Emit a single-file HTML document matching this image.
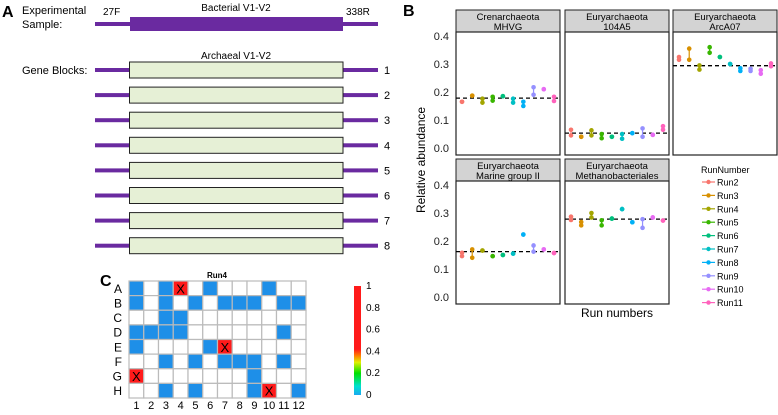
<!DOCTYPE html>
<html><head><meta charset="utf-8"><style>
body{margin:0;background:#fff;width:778px;height:410px;overflow:hidden}
svg{font-family:"Liberation Sans",sans-serif}
</style></head><body>
<svg id="fig" width="778" height="410" xmlns="http://www.w3.org/2000/svg">
<g id="panelA">
 <text x="2" y="17" font-size="16" font-weight="bold">A</text>
 <text x="22" y="14" font-size="11">Experimental</text>
 <text x="22" y="28" font-size="11">Sample:</text>
 <rect x="95" y="22" width="283" height="4" fill="#6a2aa0"/>
 <rect x="130" y="17" width="213" height="14" fill="#6a2aa0"/>
 <text x="103" y="15" font-size="10">27F</text>
 <text x="346" y="15" font-size="10">338R</text>
 <text x="236" y="11" font-size="10" text-anchor="middle">Bacterial V1-V2</text>
 <text x="236" y="59" font-size="10" text-anchor="middle">Archaeal V1-V2</text>
 <text x="22" y="74" font-size="11">Gene Blocks:</text>
</g>
<g id="panelB">
 <text x="403" y="16" font-size="16" font-weight="bold">B</text>
 <text transform="translate(425,160) rotate(-90)" font-size="12" text-anchor="middle">Relative abundance</text>
 <text x="617" y="317" font-size="12" text-anchor="middle">Run numbers</text>
 <text x="701" y="173" font-size="9">RunNumber</text>
</g>
<g id="panelC">
 <text x="100" y="286" font-size="16" font-weight="bold">C</text>
 <text x="217" y="278" font-size="8" font-weight="bold" text-anchor="middle">Run4</text>
</g>
</svg>
<script>
const NS='http://www.w3.org/2000/svg';
function mk(parent,tag,attrs,text){const e=document.createElementNS(NS,tag);for(const k in attrs)e.setAttribute(k,attrs[k]);if(text!==undefined)e.textContent=text;parent.appendChild(e);return e;}
// ---- Panel A data
const geneBlocks=['1','2','3','4','5','6','7','8'];
// ---- Panel B data
const runs=['Run2','Run3','Run4','Run5','Run6','Run7','Run8','Run9','Run10','Run11'];
const runColors=['#F8766D','#D89000','#A3A500','#39B600','#00BF7D','#00BFC4','#00B0F6','#9590FF','#E76BF3','#FF62BC'];
const facetNames=[['Crenarchaeota','MHVG'],['Euryarchaeota','104A5'],['Euryarchaeota','ArcA07'],['Euryarchaeota','Marine group II'],['Euryarchaeota','Methanobacteriales']];
const facetMeans=[0.178,0.053,0.294,0.162,0.278];
const mhvgLow=[0.165,0.187,0.162,0.169,0.185,0.162,0.150,0.190,0.210,0.168];
const mhvgHigh=[0.165,0.187,0.176,0.183,0.185,0.176,0.165,0.217,0.210,0.183];
const a104Low=[0.045,0.040,0.045,0.035,0.040,0.033,0.053,0.040,0.047,0.065];
const a104High=[0.065,0.040,0.063,0.050,0.040,0.050,0.053,0.070,0.047,0.078];
const arcLow=[0.315,0.315,0.280,0.340,0.325,0.300,0.275,0.275,0.265,0.292];
const arcHigh=[0.325,0.355,0.295,0.360,0.325,0.300,0.285,0.283,0.278,0.302];
const mg2Low=[0.146,0.140,0.166,0.146,0.150,0.155,0.223,0.162,0.170,0.157];
const mg2High=[0.158,0.170,0.166,0.146,0.150,0.155,0.223,0.184,0.170,0.157];
const methLow=[0.275,0.256,0.284,0.256,0.280,0.314,0.267,0.247,0.284,0.273];
const methHigh=[0.287,0.268,0.300,0.274,0.280,0.314,0.267,0.278,0.284,0.273];
const yTicks=[0.0,0.1,0.2,0.3,0.4];
// ---- Panel C data
const rowLabels=['A','B','C','D','E','F','G','H'];
const colLabels=['1','2','3','4','5','6','7','8','9','10','11','12'];
const wellValues=[
 [0,null,0,1,null,0,null,null,null,0,null,null],
 [0,null,0,null,0,null,0,0,0,null,0,0],
 [null,null,0,0,null,null,null,null,null,null,null,null],
 [0,0,0,0,null,null,null,null,null,null,0,null],
 [0,null,null,null,null,0,1,null,null,null,null,null],
 [null,null,0,null,0,null,0,0,0,null,0,null],
 [1,null,null,null,null,null,null,null,0,null,null,null],
 [null,null,0,null,0,null,null,null,0,1,null,0]];
const cbTicks=['0','0.2','0.4','0.6','0.8','1'];

const svg=document.getElementById('fig');
// Panel A
const pA=document.getElementById('panelA');
geneBlocks.forEach((g,i)=>{
  const cy=70+i*25.1;
  const l=mk(pA,'rect',{x:95,y:cy-2,width:283,height:4,fill:'#6a2aa0'});
  
  
  const b=mk(pA,'rect',{x:129.5,y:cy-8,width:213.5,height:16,fill:'#e6f0d6',stroke:'#222','stroke-width':1});
  
  
  const t=mk(pA,'text',{x:384,y:cy+4,'font-size':11},g);
  
  
});
// Panel B
const pB=document.getElementById('panelB');
const facetLow=[mhvgLow,a104Low,arcLow,mg2Low,methLow];
const facetHigh=[mhvgHigh,a104High,arcHigh,mg2High,methHigh];
const facetX=[456,565,673,456,565];
const facetRow=[0,0,0,1,1];
const rowTop=[10,159];
const W=104;
facetNames.forEach((nm,f)=>{
  const x0=facetX[f], top=rowTop[facetRow[f]], pTop=top+22, pBot=pTop+123;
  const yZero=pTop+116, yS=280; // 0.4 -> pTop+4
  const y=v=>yZero-v*yS;
  const xr=i=>x0+6+i*(W-12)/(runs.length-1);
  const s=mk(pB,'rect',{x:x0,y:top,width:W,height:22,fill:'#d3d3d3',stroke:'#222','stroke-width':1});
  
  
  const t1=mk(pB,'text',{x:x0+W/2,y:top+10,'font-size':9.5,'text-anchor':'middle'},nm[0]);
  
  
  mk(pB,'text',{x:x0+W/2,y:top+20,'font-size':9.5,'text-anchor':'middle'},nm[1]);
  const pr=mk(pB,'rect',{x:x0,y:pTop,width:W,height:123,fill:'#fff',stroke:'#222','stroke-width':1.2});
  
  
  if(x0===456){yTicks.forEach(v=>{const tt=mk(pB,'text',{x:449,y:y(v)+4,'font-size':11,'text-anchor':'end','fill':'#222'},v.toFixed(1));
    
    });}
  const dl=mk(pB,'line',{x1:x0,x2:x0+W,y1:y(facetMeans[f]),y2:y(facetMeans[f]),stroke:'#000','stroke-width':1.3,'stroke-dasharray':'4,3'});
  
  
  runs.forEach((r,i)=>{
    const lo=facetLow[f][i], hi=facetHigh[f][i], c=runColors[i], cx=xr(i);
    if(hi>lo){const el=mk(pB,'line',{x1:cx,x2:cx,y1:y(lo),y2:y(hi),stroke:c,'stroke-width':1.2});
      
      }
    const p1=mk(pB,'circle',{cx:cx,cy:y(lo),r:2.3,fill:c});
    
    
    const p2=mk(pB,'circle',{cx:cx,cy:y(hi),r:2.3,fill:c});
    
    
  });
});
runs.forEach((r,i)=>{
  const yy=182+i*13.4;
  const g=mk(pB,'g',{});
  
  
  mk(g,'line',{x1:702,x2:715,y1:yy,y2:yy,stroke:runColors[i],'stroke-width':1.2});
  mk(g,'circle',{cx:708.5,cy:yy,r:2.2,fill:runColors[i]});
  mk(g,'text',{x:717,y:yy+3.5,'font-size':9},r);
});
// Panel C
const pC=document.getElementById('panelC');
const gx=129, gy=281, cw=(306-129)/12, ch=(398-281)/8;
rowLabels.forEach((rl,r)=>{
  const t=mk(pC,'text',{x:122,y:gy+r*ch+ch/2+4.5,'font-size':12,'text-anchor':'end'},rl);
  
  
  colLabels.forEach((cl,c)=>{
    const v=wellValues[r][c];
    const fill=v===null?'#fff':(v>=0.5?'#ff1a1a':'#1e8fe8');
    const cell=mk(pC,'rect',{x:gx+c*cw,y:gy+r*ch,width:cw,height:ch,fill:fill,stroke:'#bbb','stroke-width':1.2});
    
    
    if(v!==null&&v>=0.5){const x=mk(pC,'text',{x:gx+c*cw+cw/2,y:gy+r*ch+ch/2+5,'font-size':13,'text-anchor':'middle'},'X');
      
      }
  });
});
colLabels.forEach((cl,c)=>{
  const t=mk(pC,'text',{x:gx+c*cw+cw/2,y:409,'font-size':11,'text-anchor':'middle'},cl);
  
  
});
const defs=mk(svg,'defs',{});
const lg=mk(defs,'linearGradient',{id:'cb',x1:0,y1:1,x2:0,y2:0});
[['0','#19a8f0'],['0.08','#00e0d0'],['0.2','#00e000'],['0.3','#e0f000'],['0.36','#ff8000'],['0.42','#ff1a1a'],['1','#ff1a1a']].forEach(s=>mk(lg,'stop',{offset:s[0],'stop-color':s[1]}));
const cb=mk(pC,'rect',{x:354,y:286,width:7,height:109,fill:'url(#cb)'});


cbTicks.forEach((t,i)=>{
  const tt=mk(pC,'text',{x:366,y:395-i*(109/5)+3,'font-size':10},t);
  
  
});
</script>
</body></html>
